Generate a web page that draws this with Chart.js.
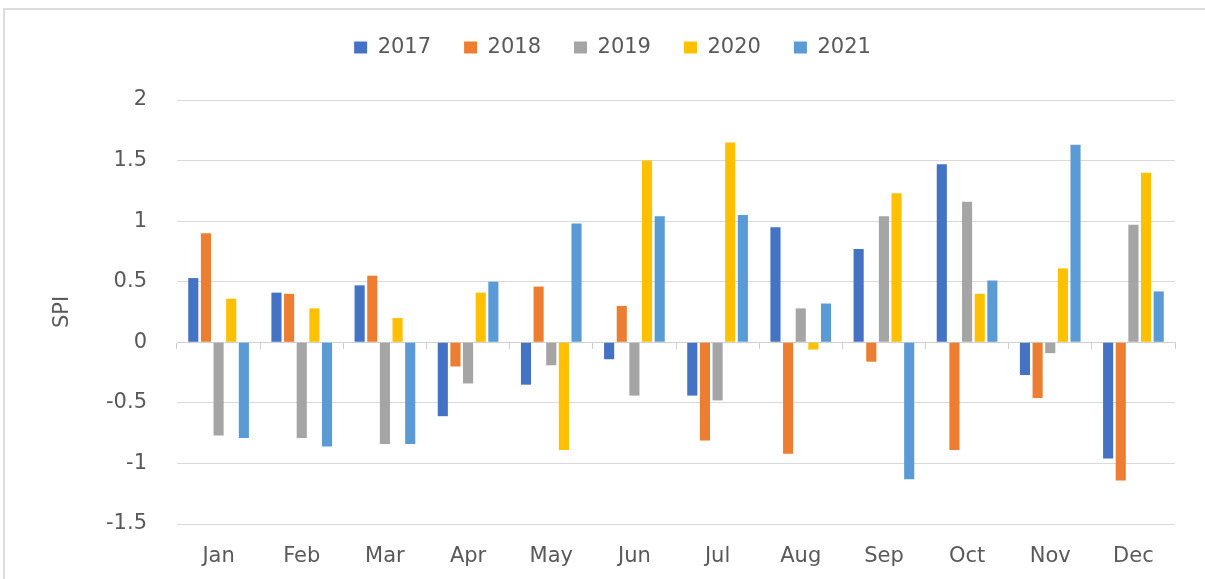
<!DOCTYPE html>
<html>
<head>
<meta charset="utf-8">
<script src="https://cdn.jsdelivr.net/npm/chart.js@4"></script>
<style>
  body { margin: 0; background: #fff; }
  #wrap { position: relative; width: 1205px; height: 579px; overflow: hidden; }
  #frame { position: absolute; left: 3px; top: 8px; width: 1300px; height: 700px;
           border-top: 2px solid #dcdcdc; border-left: 2px solid #dcdcdc; }
  canvas { position: absolute; left: 0; top: 0; }
</style>
</head>
<body>
<div id="wrap">
  <div id="frame"></div>
  <canvas id="spiChart" width="1205" height="579"></canvas>
</div>
<script>
const months = ["Jan", "Feb", "Mar", "Apr", "May", "Jun", "Jul", "Aug", "Sep", "Oct", "Nov", "Dec"];
const years = ["2017", "2018", "2019", "2020", "2021"];

const spi2017 = [0.53, 0.41, 0.47, -0.61, -0.35, -0.14, -0.44, 0.95, 0.77, 1.47, -0.27, -0.96];
const spi2018 = [0.90, 0.40, 0.55, -0.20, 0.46, 0.30, -0.81, -0.92, -0.16, -0.89, -0.46, -1.14];
const spi2019 = [-0.77, -0.79, -0.84, -0.34, -0.19, -0.44, -0.48, 0.28, 1.04, 1.16, -0.09, 0.97];
const spi2020 = [0.36, 0.28, 0.20, 0.41, -0.89, 1.50, 1.65, -0.06, 1.23, 0.40, 0.61, 1.40];
const spi2021 = [-0.79, -0.86, -0.84, 0.50, 0.98, 1.04, 1.05, 0.32, -1.13, 0.51, 1.63, 0.42];

const colors = ["#4472C4", "#ED7D31", "#A5A5A5", "#FFC000", "#5B9BD5"];
const series = [spi2017, spi2018, spi2019, spi2020, spi2021];

const textColor = "#595959";
const gridColor = "#d9d9d9";
const fontFamily = "'DejaVu Sans', sans-serif";

// push the plot area down below the legend
const legendGap = {
  id: "legendGap",
  beforeInit(chart) {
    const origFit = chart.legend.fit;
    chart.legend.fit = function fit() {
      origFit.bind(chart.legend)();
      this.height += 32;
    };
  }
};

const ctx = document.getElementById("spiChart").getContext("2d");
new Chart(ctx, {
  type: "bar",
  data: {
    labels: months,
    datasets: years.map((y, i) => ({
      label: y,
      data: series[i],
      backgroundColor: colors[i],
      borderWidth: 0,
      xAxisID: "x",
      barPercentage: 0.8,
      categoryPercentage: 0.76
    }))
  },
  options: {
    responsive: false,
    animation: false,
    layout: { padding: { top: 4, left: 50, right: 30, bottom: 0 } },
    plugins: {
      legend: {
        position: "top",
        labels: {
          color: textColor,
          font: { family: fontFamily, size: 21 },
          boxWidth: 13,
          boxHeight: 12,
          padding: 33
        }
      },
      tooltip: { enabled: false }
    },
    scales: {
      x: {
        offset: true,
        grid: { display: false, drawTicks: false, offset: true },
        border: { display: false },
        ticks: { color: textColor, font: { family: fontFamily, size: 21 }, padding: 20 },
        afterFit(scale) { scale.height = 55; }
      },
      x0: {
        type: "category",
        labels: months,
        position: { y: 0 },
        offset: true,
        grid: { drawOnChartArea: false, drawTicks: true, tickLength: 6, offset: true, color: "#cfcfcf" },
        border: { display: true, color: "#cfcfcf", width: 1 },
        ticks: { display: false }
      },
      y: {
        min: -1.5,
        max: 2,
        ticks: {
          stepSize: 0.5,
          color: textColor,
          font: { family: fontFamily, size: 21 },
          padding: 30,
          callback: v => String(v)
        },
        grid: { color: gridColor, drawTicks: false },
        border: { display: false },
        title: {
          display: true,
          text: "SPI",
          color: textColor,
          font: { family: fontFamily, size: 21 },
          padding: { top: 0, bottom: 0 }
        },
        afterFit(scale) { scale.width = 127; }
      }
    }
  },
  plugins: [legendGap]
});
</script>
</body>
</html>
